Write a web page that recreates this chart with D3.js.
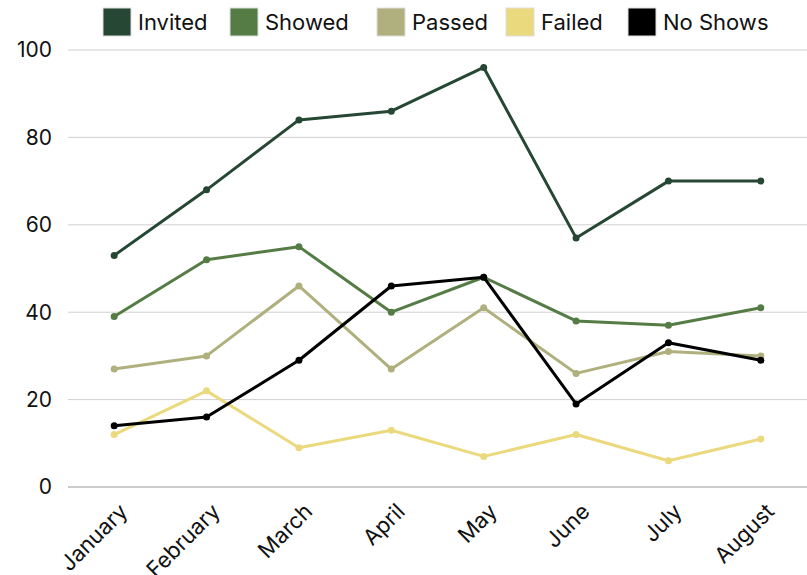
<!DOCTYPE html>
<html><head><meta charset="utf-8">
<script src="https://cdn.jsdelivr.net/npm/d3@7"></script>
<style>body{margin:0;background:#fff}svg{display:block;font-family:Inter,"Noto Sans",sans-serif}</style>
</head><body><svg id="c" width="807" height="575"></svg>
<script>
const months = ["January","February","March","April","May","June","July","August"];
const seriesNames = ["Invited","Showed","Passed","Failed","No Shows"];
const invited = [53,68,84,86,96,57,70,70];
const showed = [39,52,55,40,48,38,37,41];
const passed = [27,30,46,27,41,26,31,30];
const failed = [12,22,9,13,7,12,6,11];
const noShows = [14,16,29,46,48,19,33,29];
const yTicks = [0,20,40,60,80,100];
const colors = ["#264733","#557c45","#b0b07e","#ebd97e","#000000"];

const series = [invited, showed, passed, failed, noShows].map((v,i)=>({name:seriesNames[i], values:v, color:colors[i]}));

const svg = d3.select("#c");
const x = d3.scaleBand().domain(months).range([68,807]);
const y = d3.scaleLinear().domain([0,100]).range([487,50]);
const cx = m => x(m) + x.bandwidth()/2;

// grid
svg.append("g").selectAll("line").data(yTicks).join("line")
  .attr("x1",68).attr("x2",807)
  .attr("y1",d=>y(d)).attr("y2",d=>y(d))
  .attr("stroke",d=>d===0?"#999":"#d0d0d0").attr("stroke-width",1);

// y labels
svg.append("g").selectAll("text").data(yTicks).join("text")
  .attr("x",52).attr("y",d=>y(d)).attr("dy","0.35em")
  .attr("text-anchor","end").attr("font-size",21).attr("fill","#111")
  .text(d=>d);

// x labels
svg.append("g").selectAll("text").data(months).join("text")
  .attr("transform",d=>`translate(${cx(d)+4},${502}) rotate(-45)`)
  .attr("text-anchor","end").attr("dy","0.7em").attr("font-size",22).attr("fill","#111")
  .text(d=>d);

const line = d3.line().x((d,i)=>cx(months[i])).y(d=>y(d));
series.forEach(s=>{
  const g = svg.append("g");
  g.append("path").attr("d",line(s.values)).attr("fill","none")
    .attr("stroke",s.color).attr("stroke-width",3).attr("stroke-linejoin","round");
  g.selectAll("circle").data(s.values).join("circle")
    .attr("cx",(d,i)=>cx(months[i])).attr("cy",d=>y(d)).attr("r",3.5).attr("fill",s.color);
});

// legend
const legendX = [103,230,377,506,628];
const lg = svg.append("g");
series.forEach((s,i)=>{
  lg.append("rect").attr("x",legendX[i]).attr("y",8).attr("width",28).attr("height",28)
    .attr("fill",s.color).attr("stroke","#ddd").attr("stroke-width",1);
  lg.append("text").attr("x",legendX[i]+35).attr("y",22).attr("dy","0.35em")
    .attr("font-size",22).attr("fill","#111").text(s.name);
});
</script></body></html>
